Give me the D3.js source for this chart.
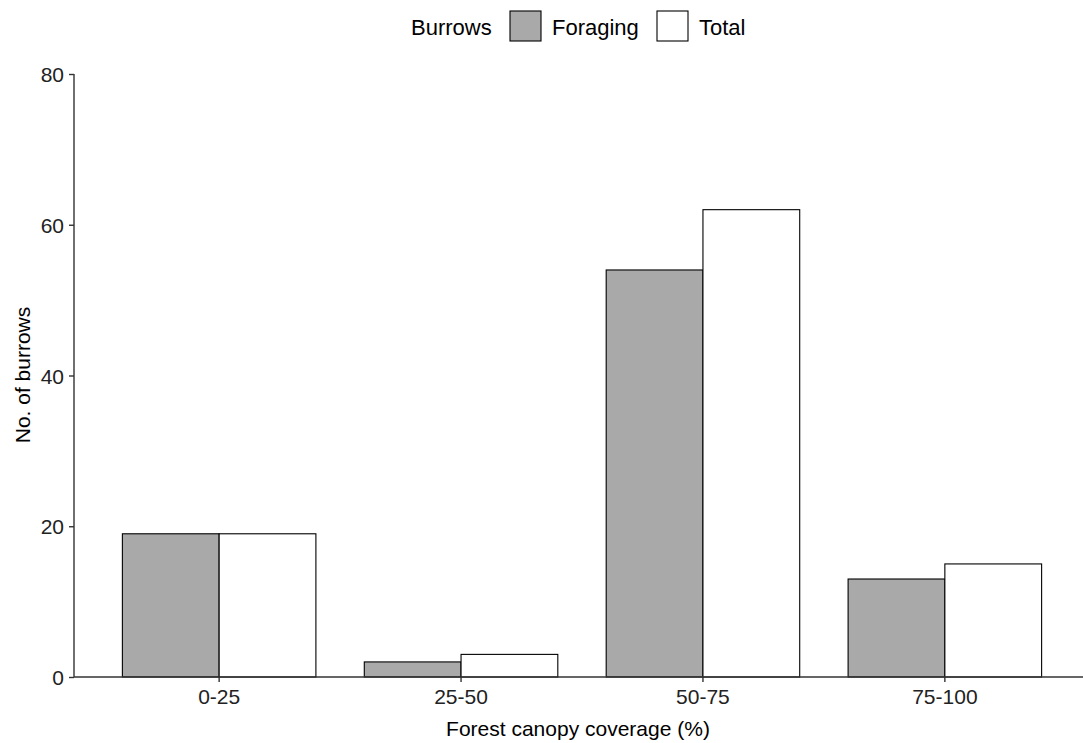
<!DOCTYPE html>
<html>
<head>
<meta charset="utf-8">
<script src="https://cdn.jsdelivr.net/npm/d3@7"></script>
<style>
  body { margin: 0; background: #fff; }
  text { font-family: "Liberation Sans", Arial, sans-serif; }
</style>
</head>
<body>
<svg id="chart" width="1083" height="743"></svg>
<script>
// Canopy classes and burrow counts
const categories = ["0-25", "25-50", "50-75", "75-100"];
const seriesNames = ["Foraging", "Total"];
const foraging = [19, 2, 54, 13];
const total = [19, 3, 62, 15];
const yTicks = [0, 20, 40, 60, 80];

const fills = { Foraging: "#a9a9a9", Total: "#ffffff" };

const svg = d3.select("#chart");

const panel = { left: 74, right: 1090, top: 74, bottom: 677 };
const unit = (panel.right - panel.left) / (categories.length + 0.2);

// Discrete x scale with 0.6 category expansion on each side
const x = d3.scaleBand()
  .domain(categories)
  .range([panel.left + 0.1 * unit, panel.right - 0.1 * unit])
  .padding(0);

// Dodged bars take 80% of each category slot
const xSub = d3.scaleBand()
  .domain(seriesNames)
  .range([0.1 * x.bandwidth(), 0.9 * x.bandwidth()]);

const y = d3.scaleLinear().domain([0, 80]).range([panel.bottom, panel.top]);

const rows = categories.map((c, i) => ({ cat: c, Foraging: foraging[i], Total: total[i] }));

// Bars
const groups = svg.append("g").selectAll("g")
  .data(rows).join("g")
  .attr("transform", d => `translate(${x(d.cat)},0)`);

groups.selectAll("rect")
  .data(d => seriesNames.map(s => ({ s, v: d[s] })))
  .join("rect")
  .attr("x", d => xSub(d.s))
  .attr("width", xSub.bandwidth())
  .attr("y", d => y(d.v))
  .attr("height", d => y(0) - y(d.v))
  .attr("fill", d => fills[d.s])
  .attr("stroke", "#000")
  .attr("stroke-width", 1.1);

// Axes
const axisColor = "#333";
const yAxis = svg.append("g")
  .attr("transform", `translate(${panel.left},0)`)
  .call(d3.axisLeft(y).tickValues(yTicks).tickSize(5).tickPadding(5).tickSizeOuter(0));
yAxis.select(".domain").attr("stroke", axisColor).attr("stroke-width", 1.4)
  .attr("d", `M0,${panel.bottom}V${panel.top}`);
yAxis.selectAll(".tick line").attr("stroke", axisColor).attr("stroke-width", 1.4);
yAxis.selectAll(".tick text").attr("font-size", 21).attr("fill", "#222").attr("dy", "0.36em");

const xAxis = svg.append("g")
  .attr("transform", `translate(0,${panel.bottom})`)
  .call(d3.axisBottom(x).tickSize(5).tickPadding(5).tickSizeOuter(0));
xAxis.select(".domain").attr("stroke", axisColor).attr("stroke-width", 1.4)
  .attr("d", `M${panel.left},0H${panel.right}`);
xAxis.selectAll(".tick line").attr("stroke", axisColor).attr("stroke-width", 1.4);
xAxis.selectAll(".tick text").attr("font-size", 21).attr("fill", "#222").attr("dy", "0.8em");

// Axis titles
svg.append("text")
  .attr("x", 578).attr("y", 736)
  .attr("text-anchor", "middle")
  .attr("font-size", 21).attr("fill", "#000")
  .text("Forest canopy coverage (%)");

svg.append("text")
  .attr("transform", `translate(30,375) rotate(-90)`)
  .attr("text-anchor", "middle")
  .attr("font-size", 21).attr("fill", "#000")
  .text("No. of burrows");

// Legend
const legend = svg.append("g");
legend.append("text")
  .attr("x", 411).attr("y", 35)
  .attr("font-size", 22).attr("fill", "#000")
  .text("Burrows");
const keyX = { Foraging: 510, Total: 657 };
seriesNames.forEach(s => {
  legend.append("rect")
    .attr("x", keyX[s]).attr("y", 11)
    .attr("width", 31).attr("height", 30)
    .attr("fill", fills[s]).attr("stroke", "#000").attr("stroke-width", 1.1);
  legend.append("text")
    .attr("x", keyX[s] + 42).attr("y", 35)
    .attr("font-size", 22).attr("fill", "#000")
    .text(s);
});
</script>
</body>
</html>
